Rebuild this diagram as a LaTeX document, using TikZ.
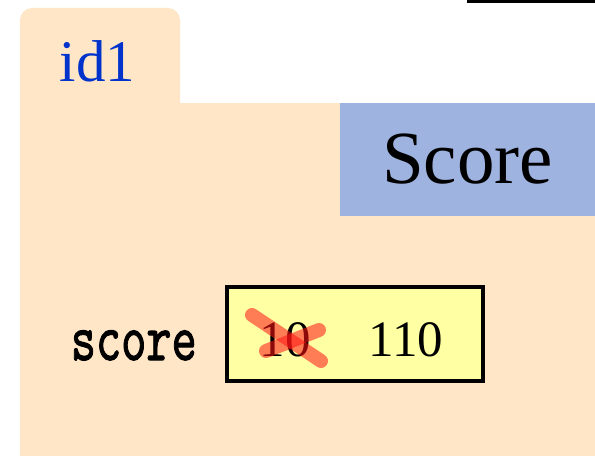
\documentclass[tikz,border=0pt]{standalone}
\usepackage{fontspec}
\usepackage{graphicx}
\setmainfont{Liberation Serif}
\newfontfamily\varfont{lmmono10-regular.otf}[FakeBold=1.6]
\usetikzlibrary{positioning}
\definecolor{framefill}{RGB}{255,230,198}
\definecolor{classfill}{RGB}{159,179,224}
\definecolor{valfill}{RGB}{255,255,163}
\definecolor{idblue}{RGB}{0,51,204}
\definecolor{crossred}{RGB}{255,20,20}
\tikzset{
  classbox/.style={fill=classfill, minimum width=255pt, minimum height=113pt,
                   inner sep=0pt, font=\fontsize{75}{80}\selectfont},
  valbox/.style={draw, line width=3.5pt, fill=valfill, minimum width=256pt,
                 minimum height=94pt, inner sep=0pt},
  valtext/.style={inner sep=0pt, anchor=base, font=\fontsize{51}{56}\selectfont},
  varname/.style={inner sep=0pt, anchor=base east,
                  font=\fontsize{48}{52}\selectfont\varfont},
  idtext/.style={inner sep=0pt, anchor=base, text=idblue,
                 font=\fontsize{59}{64}\selectfont},
  cross/.style={line width=14pt, crossred, opacity=0.55, line cap=round},
}

\begin{document}
\begin{tikzpicture}[x=1pt, y=-1pt]
  \useasboundingbox (0,0) rectangle (595,457);
  \clip (0,0) rectangle (595,457);
  % frame with its tab
  \fill[framefill, rounded corners=12pt] (20,130) -- (20,8) -- (180,8) -- (180,130) -- cycle;
  \fill[framefill] (20,103) rectangle (600,456);
  \node[idtext] (id) at (97.5,82) {id1};
  % box of the next frame, cut off at the top
  \draw[line width=3pt, fill=valfill] (468.5,-20) rectangle (620,1.8);
  % class name
  \node[classbox] (cls) at (467.5,159.5) {Score};
  % variable and its value
  \node[valbox] (val) at (355,334) {};
  \node[valtext] (old) at (285,356) {10};
  \node[valtext] (new) at (406,356) {110};
  \node[varname] (var) at (197,360) {\scalebox{1}[1.4]{score}};
  \draw[cross] (252,315) -- (321,361);
  \draw[cross] (266,351) -- (319,330);
\end{tikzpicture}
\end{document}
